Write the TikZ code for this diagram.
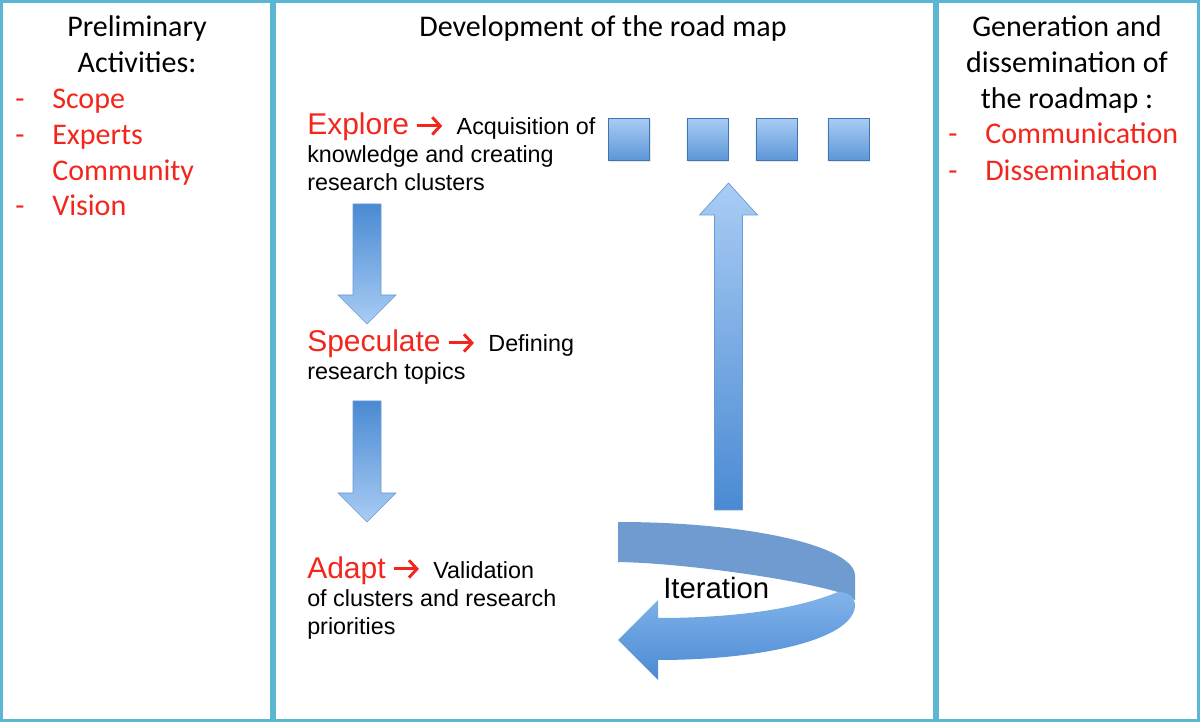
\documentclass[tikz,border=0pt]{standalone}
\usepackage{fontspec}
\setmainfont{Carlito}
\newfontfamily\arialfont{Liberation Sans}
\usetikzlibrary{positioning, shadows, arrows.meta}
\definecolor{rmframe}{HTML}{5BB6D3}
\definecolor{rmred}{HTML}{F2261C}
\definecolor{rmlight}{HTML}{A9CCF4}
\definecolor{rmdark}{HTML}{4A8AD3}
\definecolor{rmedge}{HTML}{6A9AD2}
\definecolor{rmback}{HTML}{6F9BD1}
\definecolor{rmfront}{HTML}{6BA6E6}

\newcommand{\keyword}[1]{{\fontsize{22.5}{27}\selectfont\color{rmred}#1}}
\newcommand{\phasearrow}{\tikz[baseline=-6.8pt]\draw[rmred, line width=2.2pt,
  -{Straight Barb[length=6pt, width=13pt]}] (0pt,0pt) -- (19pt,0pt);}
% #1 x of the shaft, #2 tail, #3 head base, #4 tip, #5 shading
\newcommand{\blockv}[5]{%
  \path[blockarrow, #5] (#1-14,#2) -- (#1+14,#2) -- (#1+14,#3) -- (#1+29,#3)
    -- (#1,#4) -- (#1-29,#3) -- (#1-14,#3) -- cycle;}

\tikzset{
  column/.style={draw=rmframe, line width=2.25pt},
  heading/.style={anchor=base, align=center, inner sep=0pt,
    font=\fontsize{22.5}{27}\selectfont},
  listitem/.style={anchor=base west, inner sep=0pt, text=rmred,
    font=\fontsize{22.5}{27}\selectfont},
  listdash/.style={anchor=base west, inner sep=0pt, text=rmred,
    font=\fontsize{22.5}{27}\selectfont},
  phase/.style={anchor=base west, inner sep=0pt,
    font=\arialfont\fontsize{17.5}{21}\selectfont},
  blockarrow/.style={draw=rmedge, line width=0.5pt},
  cluster/.style={draw=rmdark!85!black, line width=0.5pt, top color=rmlight,
    bottom color=rmdark!90, minimum width=31pt, minimum height=32pt,
    inner sep=0pt, drop shadow={opacity=0.2, shadow xshift=0.8pt, shadow yshift=-0.8pt}}
}

\begin{document}
\begin{tikzpicture}[x=0.75pt, y=-0.75pt]
  \useasboundingbox (0,0) rectangle (1200,723);
  % columns
  \draw[column] (1.5,1.5) rectangle (271,720.5);
  \draw[column] (274,1.5) rectangle (934.5,720.5);
  \draw[column] (937.5,1.5) rectangle (1198.5,720.5);

  % preliminary activities
  \node[heading] (prelim) at (137,72.5) {Preliminary\\Activities:};
  \foreach \y/\txt/\nm in {109/Scope/scope, 144.5/Experts/experts, 216/Vision/vision} {
    \node[listdash] (d\nm) at (15,\y) {-};
    \node[listitem] (\nm) at (52,\y) {\txt};
  }
  \node[listitem] (community) at (52,180.5) {Community};

  % development of the road map
  \node[heading] (develop) at (603,37) {Development of the road map};

  \node[phase] (explore) at (307,135) {\keyword{Explore}\ \phasearrow\ \ Acquisition of};
  \node[phase] (explore2) at (307,163) {knowledge and creating};
  \node[phase] (explore3) at (307,191) {research clusters};

  \node[phase] (speculate) at (307,352) {\keyword{Speculate}\ \phasearrow\ \ Defining};
  \node[phase] (speculate2) at (307,380) {research topics};

  \node[phase] (adapt) at (307,578) {\keyword{Adapt}\ \phasearrow\ \ Validation};
  \node[phase] (adapt2) at (307,606) {of clusters and research};
  \node[phase] (adapt3) at (307,634) {priorities};

  \blockv{367}{204}{295}{324}{top color=rmdark, bottom color=rmlight}
  \blockv{367}{401}{493}{522}{top color=rmdark, bottom color=rmlight}
  \blockv{728.5}{510}{215}{183}{top color=rmlight, bottom color=rmdark}

  \foreach \x [count=\i] in {629,707.5,776.5,848.5}
    \node[cluster] (cl\i) at (\x,139.5) {};

  % iteration ribbon
  \path[fill=rmback] (618,522) .. controls (745,522) and (853,545) .. (855,575)
    -- (855,600) -- (838,592) .. controls (790,578) and (680,563) .. (618,562) -- cycle;
  \path[top color=rmfront!85!white, bottom color=rmdark] (838,592)
    .. controls (790,612) and (720,618) .. (658,618) -- (658,600) -- (618,640)
    -- (658,680) -- (658,660) .. controls (760,660) and (853,640) .. (855,606)
    .. controls (855,598) and (850,592) .. (838,592) -- cycle;
  \node[anchor=base west, inner sep=0pt, font=\arialfont\fontsize{22}{26}\selectfont]
    (iteration) at (663,598) {Iteration};

  % generation and dissemination
  \node[heading] (generation) at (1067,108.5) {Generation and\\dissemination of\\the roadmap :};
  \foreach \y/\txt/\nm in {144/Communication/communication, 180.5/Dissemination/dissemination} {
    \node[listdash] (d\nm) at (948,\y) {-};
    \node[listitem] (\nm) at (985,\y) {\txt};
  }
\end{tikzpicture}
\end{document}
